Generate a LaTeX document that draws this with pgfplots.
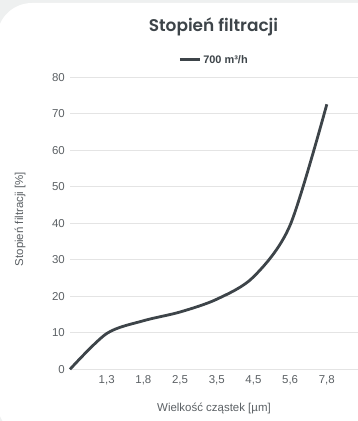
\documentclass[border=0pt]{standalone}
\usepackage{fontspec}
\setmainfont{Liberation Sans}
\newfontfamily\titlefont{Poppins}[UprightFont=* SemiBold, BoldFont=* SemiBold]
\usepackage{pgfplots}
\pgfplotsset{compat=1.18}
\definecolor{bg}{HTML}{EEF0F0}
\definecolor{linec}{HTML}{3D4449}
\definecolor{txt}{HTML}{5C6165}
\definecolor{gridc}{HTML}{E4E4E4}
\begin{document}
\begin{tikzpicture}[x=1bp,y=1bp]
\useasboundingbox (0,0) rectangle (358,421);
\fill[bg] (0,0) rectangle (358,421);
\fill[white, rounded corners=35bp] (-3,-16) rectangle (420,418);
\begin{axis}[
  at={(70bp,51.7bp)}, anchor=south west,
  scale only axis, width=288bp, height=292bp,
  xmin=0, xmax=7.85, ymin=0, ymax=80,
  axis line style={draw=none},
  major tick length=0pt,
  ytick={0,10,...,80},
  xtick={1,...,7},
  xticklabels={{1,3},{1,8},{2,5},{3,5},{4,5},{5,6},{7,8}},
  ymajorgrids, grid style={gridc, line width=1bp},
  /pgf/number format/assume math mode=true,
  tick label style={font=\fontsize{11.5}{13}\selectfont, text=txt},
  yticklabel style={anchor=east, inner sep=0pt, xshift=-5bp},
  xticklabel style={anchor=north, inner sep=0pt, yshift=-6bp},
  clip=false,
  legend style={draw=none, fill=none, font=\bfseries\fontsize{11}{12}\selectfont, text=linec,
    at={(0.5,1)}, anchor=center, yshift=17.3bp, inner sep=0pt},
  legend image code/.code={\draw[linec, line width=3bp] (0bp,0bp) -- (20bp,0bp);},
]
\addplot[linec, line width=2.8bp, smooth, tension=0.5] coordinates {
  (0,0) (1,9.8) (2,13.3) (3,15.7) (4,19.2) (5,25.3) (6,39.5) (7,72.6)
};
\addlegendentry{700 m³/h}
\end{axis}
\node[font=\titlefont\fontsize{17}{20}\selectfont, text=linec, anchor=base] at (213.5,389.3) {Stopień filtracji};
\node[font=\fontsize{11.5}{13}\selectfont, text=txt] at (214,13) {Wielkość cząstek [µm]};
\node[font=\fontsize{11.5}{13}\selectfont, text=txt, rotate=90] at (20,202) {Stopień filtracji [\%]};
\end{tikzpicture}
\end{document}
